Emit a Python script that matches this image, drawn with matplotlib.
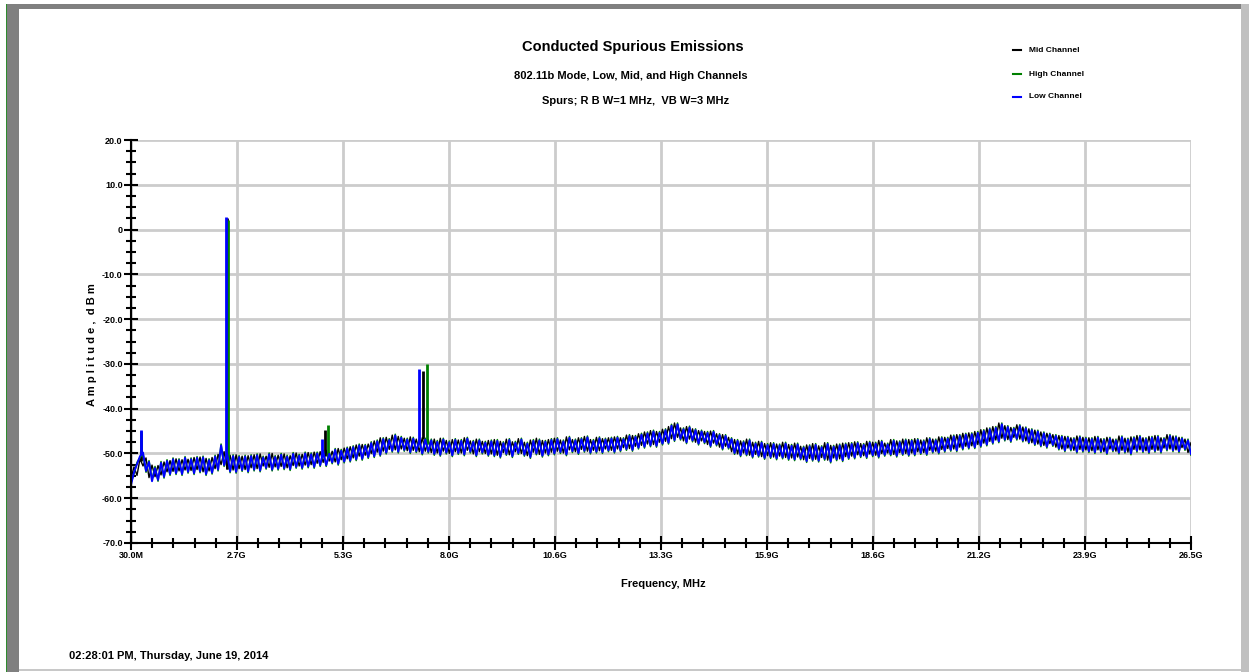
import numpy as np
import matplotlib
matplotlib.use("Agg")
import matplotlib.pyplot as plt
from matplotlib import font_manager
from matplotlib.patches import Rectangle
from matplotlib.lines import Line2D

# ---------------- data ----------------
F_START_GHZ = 0.03
F_STOP_GHZ = 26.5

LOW_CHANNEL = [
    -57.0, -54.2, -52.4, -50.6, -49.8, -53.9, -51.9, -56.2, -53.3, -55.9, -52.1, -55.2, -51.7, -54.6, -51.3, -54.4, -51.5, -54.6, -51.0, -54.1,
    -51.3, -54.4, -51.0, -54.0, -50.9, -54.6, -51.5, -54.3, -50.7, -53.6, -48.2, -52.6, -50.0, -54.0, -50.6, -54.1, -50.8, -53.7, -50.7, -54.0,
    -50.6, -53.6, -50.4, -53.8, -50.9, -53.2, -50.2, -53.6, -50.8, -53.4, -50.3, -53.3, -50.7, -53.5, -50.1, -53.0, -50.5, -53.2, -50.0, -52.9,
    -50.2, -53.0, -50.0, -52.6, -49.6, -52.6, -50.1, -52.0, -49.2, -52.3, -49.4, -51.8, -48.9, -51.6, -48.6, -51.3, -48.2, -51.2, -48.3, -50.8,
    -47.7, -50.6, -47.3, -50.3, -46.8, -49.8, -47.0, -49.4, -46.0, -49.6, -46.5, -49.2, -46.9, -49.7, -46.7, -49.5, -47.1, -50.0, -46.9, -49.6,
    -47.1, -50.1, -47.4, -50.3, -46.9, -49.8, -47.5, -50.4, -47.0, -49.9, -47.2, -50.2, -46.7, -49.6, -47.4, -50.4, -47.1, -49.8, -47.6, -50.3,
    -47.3, -50.4, -47.2, -50.7, -47.7, -50.1, -47.0, -50.6, -47.6, -49.9, -46.9, -50.3, -47.8, -50.8, -47.2, -50.0, -47.1, -50.5, -47.4, -50.2,
    -47.0, -50.0, -46.8, -49.7, -47.3, -50.2, -46.5, -49.5, -47.1, -49.9, -46.8, -49.4, -46.4, -49.8, -47.2, -49.6, -46.6, -49.7, -46.9, -49.3,
    -46.7, -49.6, -46.5, -49.3, -46.8, -49.0, -46.1, -49.2, -46.3, -48.7, -45.8, -48.5, -45.5, -48.2, -45.1, -48.3, -45.4, -47.8, -44.8, -47.6,
    -43.8, -47.0, -43.5, -46.7, -44.6, -47.5, -44.2, -47.1, -44.8, -47.8, -45.1, -47.5, -45.4, -48.3, -45.2, -48.0, -45.9, -48.9, -46.1, -48.7,
    -46.8, -49.9, -47.2, -50.4, -47.5, -50.2, -47.1, -50.7, -47.8, -50.5, -47.6, -51.0, -48.1, -50.8, -47.9, -51.1, -48.2, -50.9, -47.8, -51.2,
    -48.3, -51.3, -48.0, -51.1, -48.7, -51.7, -48.4, -51.4, -48.1, -51.6, -48.6, -51.2, -47.9, -51.8, -48.5, -51.3, -48.2, -51.5, -48.0, -51.0,
    -47.9, -50.9, -47.7, -50.6, -48.1, -50.8, -47.6, -50.4, -47.8, -50.7, -47.4, -50.3, -48.0, -50.2, -47.2, -50.5, -47.5, -50.1, -47.1, -50.3,
    -47.2, -50.2, -47.0, -49.9, -47.3, -50.1, -46.8, -49.6, -47.1, -49.8, -46.6, -49.4, -46.7, -49.2, -46.2, -49.3, -46.1, -48.9, -45.8, -48.7,
    -45.7, -48.6, -45.4, -48.3, -45.0, -48.0, -44.6, -47.6, -44.3, -47.3, -43.5, -46.9, -44.1, -47.2, -44.5, -46.7, -43.9, -47.1, -44.4, -47.5,
    -44.8, -47.9, -45.1, -48.2, -45.5, -48.5, -45.8, -48.1, -46.1, -48.9, -46.3, -49.3, -46.5, -49.1, -46.8, -49.6, -46.4, -49.4, -46.7, -49.5,
    -46.8, -49.7, -46.5, -49.5, -47.0, -49.9, -46.7, -49.3, -47.1, -49.8, -46.4, -49.6, -46.9, -50.0, -46.6, -49.4, -46.3, -49.5, -46.8, -49.7,
    -46.5, -49.4, -46.3, -49.6, -46.8, -49.1, -46.1, -49.3, -46.4, -49.5, -46.7, -49.0, -47.1, -50.1,
]
MID_CHANNEL = [
    -55.6, -53.0, -54.9, -51.2, -52.8, -51.0, -55.4, -52.6, -55.2, -52.7, -54.8, -51.9, -54.1, -51.6, -54.0, -51.2, -53.9, -51.4, -53.7, -51.3,
    -53.8, -50.9, -53.6, -50.8, -54.1, -51.1, -53.9, -50.9, -53.4, -50.2, -52.5, -49.6, -53.5, -50.4, -53.7, -50.3, -53.4, -50.6, -53.6, -50.5,
    -53.2, -50.3, -53.4, -50.1, -52.8, -50.6, -53.1, -50.0, -53.0, -50.4, -52.9, -50.1, -53.2, -50.5, -52.7, -49.9, -52.8, -50.2, -52.6, -49.8,
    -52.5, -49.7, -52.2, -49.6, -52.0, -49.3, -51.7, -49.5, -51.9, -48.9, -51.4, -48.8, -51.2, -48.5, -51.0, -48.1, -50.6, -48.0, -50.4, -47.9,
    -50.0, -47.2, -49.7, -46.5, -49.5, -46.4, -49.1, -45.9, -49.2, -46.2, -49.0, -46.6, -49.4, -46.3, -49.3, -46.8, -49.6, -46.5, -49.5, -46.9,
    -49.8, -46.8, -49.9, -46.6, -49.5, -47.1, -50.0, -46.9, -49.6, -47.0, -49.9, -46.5, -49.3, -47.2, -50.1, -46.8, -49.6, -47.3, -50.0, -47.1,
    -50.1, -46.9, -50.4, -47.3, -49.8, -46.8, -50.3, -47.4, -49.6, -46.7, -50.0, -47.5, -50.5, -47.0, -49.7, -46.6, -50.2, -47.1, -49.9, -46.9,
    -49.7, -46.6, -49.5, -47.0, -49.9, -46.3, -49.2, -46.9, -49.6, -46.5, -49.1, -46.2, -49.5, -46.9, -49.3, -46.4, -49.4, -46.7, -49.0, -46.5,
    -49.3, -46.3, -49.0, -46.5, -48.7, -45.9, -48.9, -46.0, -48.4, -45.6, -48.2, -45.2, -47.9, -44.9, -48.0, -45.1, -47.5, -44.6, -47.3, -44.0,
    -46.7, -43.2, -46.4, -44.3, -47.2, -44.0, -46.8, -44.5, -47.5, -44.9, -47.2, -45.1, -48.0, -45.0, -47.7, -45.6, -48.6, -45.8, -48.4, -46.4,
    -49.6, -46.9, -50.1, -47.2, -49.9, -46.8, -50.4, -47.5, -50.2, -47.3, -50.7, -47.8, -50.5, -47.6, -50.8, -47.9, -50.6, -47.5, -50.9, -48.0,
    -51.0, -47.7, -50.8, -48.4, -51.4, -48.1, -51.1, -47.8, -51.3, -48.3, -50.9, -47.6, -51.5, -48.2, -51.0, -47.9, -51.2, -47.7, -50.7, -47.6,
    -50.6, -47.4, -50.3, -47.8, -50.5, -47.3, -50.1, -47.5, -50.4, -47.1, -50.0, -47.7, -49.9, -46.9, -50.2, -47.2, -49.8, -46.8, -50.0, -46.9,
    -49.9, -46.7, -49.6, -47.0, -49.8, -46.5, -49.3, -46.8, -49.5, -46.3, -49.1, -46.4, -48.9, -45.9, -49.0, -45.8, -48.6, -45.5, -48.4, -45.4,
    -48.3, -45.1, -48.0, -44.7, -47.7, -44.3, -47.3, -44.0, -47.0, -43.2, -46.6, -43.8, -46.9, -44.2, -46.4, -43.6, -46.8, -44.1, -47.2, -44.5,
    -47.6, -44.8, -47.9, -45.2, -48.2, -45.5, -47.8, -45.8, -48.6, -46.0, -49.0, -46.2, -48.8, -46.5, -49.3, -46.1, -49.1, -46.4, -49.2, -46.5,
    -49.4, -46.2, -49.2, -46.7, -49.6, -46.4, -49.0, -46.8, -49.5, -46.1, -49.3, -46.6, -49.7, -46.3, -49.1, -46.0, -49.2, -46.5, -49.4, -46.2,
    -49.1, -46.0, -49.3, -46.5, -48.8, -45.8, -49.0, -46.1, -49.2, -46.4, -48.7, -46.8, -49.8, -47.6,
]
HIGH_CHANNEL = [
    -56.6, -54.5, -52.0, -50.9, -50.1, -54.2, -51.6, -55.8, -52.9, -56.2, -51.8, -55.5, -51.4, -54.9, -51.0, -54.7, -51.2, -54.9, -50.7, -54.4,
    -51.0, -54.7, -50.7, -54.3, -50.6, -54.9, -51.2, -54.6, -50.4, -53.9, -47.9, -52.9, -49.7, -54.3, -50.3, -54.4, -50.5, -54.0, -50.4, -54.3,
    -50.3, -53.9, -50.1, -54.1, -50.6, -53.5, -49.9, -53.9, -50.5, -53.7, -50.0, -53.6, -50.4, -53.8, -49.8, -53.3, -50.2, -53.5, -49.7, -53.2,
    -49.9, -53.3, -49.7, -52.9, -49.3, -52.9, -49.8, -52.3, -48.9, -52.6, -49.1, -52.1, -48.6, -51.9, -48.3, -51.6, -47.9, -51.5, -48.0, -51.1,
    -47.4, -50.9, -47.0, -50.6, -46.5, -50.1, -46.7, -49.7, -45.7, -49.9, -46.2, -49.5, -46.6, -50.0, -46.4, -49.8, -46.8, -50.3, -46.6, -49.9,
    -46.8, -50.4, -47.1, -50.6, -46.6, -50.1, -47.2, -50.7, -46.7, -50.2, -46.9, -50.5, -46.4, -49.9, -47.1, -50.7, -46.8, -50.1, -47.3, -50.6,
    -47.0, -50.7, -46.9, -51.0, -47.4, -50.4, -46.7, -50.9, -47.3, -50.2, -46.6, -50.6, -47.5, -51.1, -46.9, -50.3, -46.8, -50.8, -47.1, -50.5,
    -46.7, -50.3, -46.5, -50.0, -47.0, -50.5, -46.2, -49.8, -46.8, -50.2, -46.5, -49.7, -46.1, -50.1, -46.9, -49.9, -46.3, -50.0, -46.6, -49.6,
    -46.4, -49.9, -46.2, -49.6, -46.5, -49.3, -45.8, -49.5, -46.0, -49.0, -45.5, -48.8, -45.2, -48.5, -44.8, -48.6, -45.1, -48.1, -44.5, -47.9,
    -43.5, -47.3, -43.2, -47.0, -44.3, -47.8, -43.9, -47.4, -44.5, -48.1, -44.8, -47.8, -45.1, -48.6, -44.9, -48.3, -45.6, -49.2, -45.8, -49.0,
    -46.5, -50.2, -46.9, -50.7, -47.2, -50.5, -46.8, -51.0, -47.5, -50.8, -47.3, -51.3, -47.8, -51.1, -47.6, -51.4, -47.9, -51.2, -47.5, -51.5,
    -48.0, -51.6, -47.7, -51.4, -48.4, -52.0, -48.1, -51.7, -47.8, -51.9, -48.3, -51.5, -47.6, -52.1, -48.2, -51.6, -47.9, -51.8, -47.7, -51.3,
    -47.6, -51.2, -47.4, -50.9, -47.8, -51.1, -47.3, -50.7, -47.5, -51.0, -47.1, -50.6, -47.7, -50.5, -46.9, -50.8, -47.2, -50.4, -46.8, -50.6,
    -46.9, -50.5, -46.7, -50.2, -47.0, -50.4, -46.5, -49.9, -46.8, -50.1, -46.3, -49.7, -46.4, -49.5, -45.9, -49.6, -45.8, -49.2, -45.5, -49.0,
    -45.4, -48.9, -45.1, -48.6, -44.7, -48.3, -44.3, -47.9, -44.0, -47.6, -43.2, -47.2, -43.8, -47.5, -44.2, -47.0, -43.6, -47.4, -44.1, -47.8,
    -44.5, -48.2, -44.8, -48.5, -45.2, -48.8, -45.5, -48.4, -45.8, -49.2, -46.0, -49.6, -46.2, -49.4, -46.5, -49.9, -46.1, -49.7, -46.4, -49.8,
    -46.5, -50.0, -46.2, -49.8, -46.7, -50.2, -46.4, -49.6, -46.8, -50.1, -46.1, -49.9, -46.6, -50.3, -46.3, -49.7, -46.0, -49.8, -46.5, -50.0,
    -46.2, -49.7, -46.0, -49.9, -46.5, -49.4, -45.8, -49.6, -46.1, -49.8, -46.4, -49.3, -46.8, -50.4,
]

# narrow spurs: frequency (GHz) and peak level (dBm)
LOW_SPUR_FREQ = [0.28, 2.40, 4.80, 7.22]
LOW_SPUR_PEAK = [-44.8, 2.8, -46.7, -31.1]
MID_SPUR_FREQ = [0.28, 2.43, 4.87, 7.31]
MID_SPUR_PEAK = [-45.5, 2.6, -44.7, -31.5]
HIGH_SPUR_FREQ = [0.28, 2.46, 4.95, 7.41]
HIGH_SPUR_PEAK = [-45.0, 2.2, -43.6, -30.0]

X_TICK_LABELS = ["30.0M", "2.7G", "5.3G", "8.0G", "10.6G", "13.3G",
                 "15.9G", "18.6G", "21.2G", "23.9G", "26.5G"]
Y_TICKS = [20, 10, 0, -10, -20, -30, -40, -50, -60, -70]
Y_TICK_LABELS = ["20.0", "10.0", "0", "-10.0", "-20.0", "-30.0",
                 "-40.0", "-50.0", "-60.0", "-70.0"]

TITLE = "Conducted Spurious Emissions"
SUB1 = "802.11b Mode, Low, Mid, and High Channels"
SUB2 = "Spurs; R B W=1 MHz,  VB W=3 MHz"
STAMP = "02:28:01 PM, Thursday, June 19, 2014"
XLABEL = "Frequency, MHz"
YLABEL = "A m p l i t u d e ,  d B m"

# ---------------- fonts ----------------
names = {f.name for f in font_manager.fontManager.ttflist}
if "Liberation Sans Narrow" in names:
    FAM = ["Liberation Sans Narrow", "DejaVu Sans"]
else:
    FAM = ["Liberation Sans", "DejaVu Sans"]
plt.rcParams["font.family"] = FAM

W, H = 1249, 672
fig = plt.figure(figsize=(W / 100, H / 100), dpi=100)
fig.patch.set_facecolor("white")

def px_rect(x0, y0, x1, y1, color):
    fig.patches.append(Rectangle((x0 / W, 1 - y1 / H), (x1 - x0) / W, (y1 - y0) / H,
                                 transform=fig.transFigure, facecolor=color,
                                 edgecolor="none", zorder=0))

px_rect(6, 4, 7, 672, "#2e8b2e")
px_rect(7, 4, 19, 672, "#808080")
px_rect(7, 4, 1241, 9, "#808080")
px_rect(1241, 4, 1249, 672, "#c0c0c0")
px_rect(19, 669, 1241, 671, "#c8c8c8")

L, R, T, B = 131, 1191, 140, 543
ax = fig.add_axes([L / W, 1 - B / H, (R - L) / W, (B - T) / H])
ax.set_facecolor("white")

def draw(series, sf, sp, color, z, lw):
    f = np.linspace(F_START_GHZ, F_STOP_GHZ, len(series))
    a = np.array(series)
    ax.plot(f, a, color=color, lw=lw, zorder=z)
    base = np.interp(sf, f, a)
    ax.vlines(sf, base, sp, color=color, lw=2.0, zorder=z)

draw(MID_CHANNEL, MID_SPUR_FREQ, MID_SPUR_PEAK, "black", 3, 1.0)
draw(HIGH_CHANNEL, HIGH_SPUR_FREQ, HIGH_SPUR_PEAK, "#008000", 4, 1.1)
draw(LOW_CHANNEL, LOW_SPUR_FREQ, LOW_SPUR_PEAK, "#0000ff", 5, 1.4)

ax.set_xlim(F_START_GHZ, F_STOP_GHZ)
ax.set_ylim(-70, 20)
xt = np.linspace(F_START_GHZ, F_STOP_GHZ, len(X_TICK_LABELS))
ax.set_xticks(xt)
ax.set_xticklabels(X_TICK_LABELS)
ax.set_xticks(np.linspace(F_START_GHZ, F_STOP_GHZ, 5 * (len(X_TICK_LABELS) - 1) + 1), minor=True)
ax.set_yticks(Y_TICKS)
ax.set_yticklabels(Y_TICK_LABELS)
ax.set_yticks(np.arange(-70, 20.1, 2.5), minor=True)

ax.grid(True, which="major", color="#cccccc", lw=2.0, zorder=0)
ax.set_axisbelow(True)
for s in ["top", "right"]:
    ax.spines[s].set_visible(False)
for s in ["left", "bottom"]:
    ax.spines[s].set_color("black")
    ax.spines[s].set_linewidth(1.5)
    ax.spines[s].set_zorder(6)

ax.tick_params(which="major", direction="inout", length=10, width=1.5, color="black",
               labelsize=6.5, pad=1)
ax.tick_params(which="minor", direction="inout", length=7, width=1.5, color="black")
for lab in ax.get_xticklabels() + ax.get_yticklabels():
    lab.set_fontweight("bold")

fig.text(663 / W, 1 - 584 / H, XLABEL, ha="center", va="center", fontsize=8, fontweight="bold")
fig.text(92 / W, 1 - 345 / H, YLABEL, ha="center", va="center", rotation=90,
         fontsize=8, fontweight="bold")

fig.text(633 / W, 1 - 47 / H, TITLE, ha="center", va="center", fontsize=10.5, fontweight="bold")
fig.text(631 / W, 1 - 76 / H, SUB1, ha="center", va="center", fontsize=8, fontweight="bold")
fig.text(636 / W, 1 - 101 / H, SUB2, ha="center", va="center", fontsize=8, fontweight="bold")
fig.text(69 / W, 1 - 656 / H, STAMP, ha="left", va="center", fontsize=8, fontweight="bold")

for yy, lab, col in [(50, "Mid Channel", "black"), (74, "High Channel", "#008000"),
                     (97, "Low Channel", "#0000ff")]:
    fig.add_artist(Line2D([1013 / W, 1021 / W], [1 - yy / H, 1 - yy / H], color=col, lw=1.5,
                          transform=fig.transFigure))
    fig.text(1029 / W, 1 - yy / H, lab, ha="left", va="center", fontsize=6, fontweight="bold")

fig.savefig("out.png", dpi=100, facecolor="white")
